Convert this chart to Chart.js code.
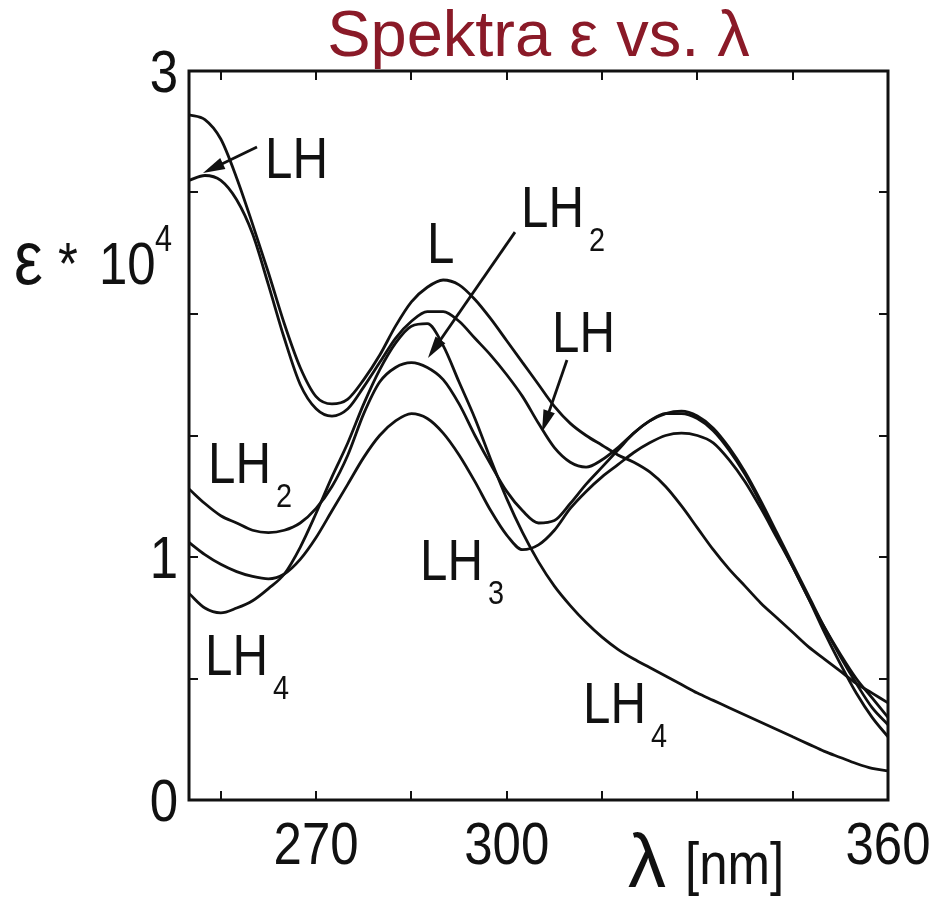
<!DOCTYPE html>
<html>
<head>
<meta charset="utf-8">
<script src="https://cdn.jsdelivr.net/npm/chart.js@4.4.1/dist/chart.umd.min.js"></script>
<style>
    html, body { margin: 0; padding: 0; background: #fff; }
    #wrap { width: 935px; height: 901px; }
</style>
</head>
<body>
<div id="wrap"><canvas id="spectra" width="935" height="901"></canvas></div>
<script>
// Wavelength grid (nm)
const wavelengths = [250, 252.5, 255, 257.5, 260, 262.5, 265, 267.5, 270, 272.5, 275, 277.5, 280, 282.5, 285,
    287.5, 290, 292.5, 295, 297.5, 300, 302.5, 305, 307.5, 310, 312.5, 315, 317.5, 320, 322.5,
    325, 327.5, 330, 332.5, 335, 337.5, 340, 342.5, 345, 347.5, 350, 352.5, 355, 357.5, 360];

// epsilon * 10^4
const epsL = [2.82, 2.80, 2.72, 2.56, 2.37, 2.17, 1.96, 1.78, 1.66, 1.63, 1.65, 1.73, 1.83, 1.95, 2.05,
    2.11, 2.14, 2.12, 2.06, 1.98, 1.89, 1.80, 1.71, 1.62, 1.55, 1.50, 1.46, 1.42, 1.39, 1.35,
    1.29, 1.21, 1.12, 1.03, 0.95, 0.88, 0.81, 0.75, 0.69, 0.63, 0.58, 0.53, 0.48, 0.44, 0.40];
const epsLH = [2.55, 2.57, 2.55, 2.47, 2.33, 2.12, 1.90, 1.71, 1.61, 1.58, 1.61, 1.70, 1.80, 1.90, 1.97,
    2.01, 2.01, 1.97, 1.90, 1.83, 1.75, 1.66, 1.55, 1.45, 1.39, 1.37, 1.40, 1.45, 1.51, 1.56,
    1.59, 1.60, 1.58, 1.53, 1.45, 1.35, 1.23, 1.10, 0.97, 0.84, 0.71, 0.59, 0.48, 0.38, 0.31];
const epsLH2 = [1.28, 1.22, 1.17, 1.14, 1.11, 1.10, 1.11, 1.14, 1.20, 1.29, 1.42, 1.59, 1.72, 1.78, 1.80,
    1.78, 1.73, 1.63, 1.50, 1.38, 1.27, 1.19, 1.14, 1.15, 1.22, 1.30, 1.37, 1.44, 1.51, 1.56,
    1.59, 1.59, 1.57, 1.52, 1.44, 1.34, 1.22, 1.09, 0.96, 0.83, 0.71, 0.60, 0.50, 0.42, 0.34];
const epsLH3 = [1.06, 1.01, 0.97, 0.94, 0.92, 0.91, 0.93, 0.99, 1.08, 1.19, 1.30, 1.41, 1.50, 1.56, 1.59,
    1.57, 1.51, 1.42, 1.31, 1.19, 1.09, 1.03, 1.05, 1.11, 1.20, 1.27, 1.33, 1.38, 1.43, 1.47,
    1.50, 1.51, 1.50, 1.47, 1.40, 1.31, 1.20, 1.08, 0.96, 0.83, 0.69, 0.56, 0.44, 0.34, 0.26];
const epsLH4 = [0.85, 0.79, 0.77, 0.79, 0.82, 0.87, 0.93, 1.04, 1.18, 1.33, 1.47, 1.63, 1.77, 1.88, 1.95,
    1.96, 1.87, 1.72, 1.57, 1.40, 1.24, 1.10, 0.98, 0.88, 0.80, 0.73, 0.67, 0.62, 0.58, 0.545,
    0.51, 0.475, 0.44, 0.41, 0.38, 0.35, 0.32, 0.29, 0.26, 0.23, 0.20, 0.175, 0.15, 0.13, 0.12];

const seriesNames = ['L', 'LH', 'LH2', 'LH3', 'LH4'];
const seriesValues = [epsL, epsLH, epsLH2, epsLH3, epsLH4];

// Axis ticks (only some of them carry a label)
const xTickValues = [255, 270, 285, 300, 315, 330, 345, 360];
const xTickLabels = { 270: '270', 300: '300', 360: '360' };
const yTickValues = [0, 0.5, 1, 1.5, 2, 2.5, 3];
const yTickLabels = { 0: '0', 1: '1', 3: '3' };

const SANS = '"Liberation Sans", Arial, sans-serif';
const SQUEEZE = 0.85;   // the original lettering is a narrow Helvetica
const INK = '#111111';

// Curve labels in data coordinates (lambda, eps); arrows go from -> to
const curveLabels = [
    { text: 'LH', sub: '', at: [261.96, 2.56], from: [260.7, 2.687], to: [252.2, 2.58] },
    { text: 'L', sub: '', at: [287.45, 2.21] },
    { text: 'LH', sub: '2', at: [302.25, 2.36], from: [301.3, 2.337], to: [287.6, 1.819] },
    { text: 'LH', sub: '', at: [307.12, 1.844], from: [309.48, 1.811], to: [305.55, 1.514] },
    { text: 'LH', sub: '2', at: [252.99, 1.305] },
    { text: 'LH', sub: '3', at: [286.35, 0.905] },
    { text: 'LH', sub: '4', at: [252.52, 0.514] },
    { text: 'LH', sub: '4', at: [312.0, 0.317] }
];

// narrow text: draw with a horizontal squeeze, returns drawn width
function narrowText(ctx, text, x, y, size, align) {
    ctx.font = size + 'px ' + SANS;
    const w = ctx.measureText(text).width * SQUEEZE;
    let left = x;
    if (align === 'right') left = x - w;
    if (align === 'center') left = x - w / 2;
    ctx.save();
    ctx.translate(left, y);
    ctx.scale(SQUEEZE, 1);
    ctx.textAlign = 'left';
    ctx.fillText(text, 0, 0);
    ctx.restore();
    return w;
}

// Box with inward tick marks on all four sides, plus the tick labels
const frameAndTicks = {
    id: 'frameAndTicks',
    afterDatasetsDraw(chart) {
        const { ctx, chartArea: a, scales: { x, y } } = chart;
        ctx.save();
        ctx.strokeStyle = INK;
        ctx.fillStyle = INK;
        ctx.lineWidth = 2;
        ctx.beginPath();
        x.ticks.forEach(t => {
            const px = Math.round(x.getPixelForValue(t.value));
            if (px <= a.left + 2 || px >= a.right - 2) return;
            ctx.moveTo(px, a.bottom); ctx.lineTo(px, a.bottom - 9);
            ctx.moveTo(px, a.top); ctx.lineTo(px, a.top + 9);
        });
        y.ticks.forEach(t => {
            const py = Math.round(y.getPixelForValue(t.value));
            if (py <= a.top + 2 || py >= a.bottom - 2) return;
            ctx.moveTo(a.left, py); ctx.lineTo(a.left + 9, py);
            ctx.moveTo(a.right, py); ctx.lineTo(a.right - 9, py);
        });
        ctx.stroke();
        ctx.lineWidth = 3;
        ctx.strokeRect(a.left, a.top, a.right - a.left, a.bottom - a.top);

        ctx.textBaseline = 'alphabetic';
        x.ticks.forEach(t => {
            const lbl = xTickLabels[t.value];
            if (lbl) narrowText(ctx, lbl, x.getPixelForValue(t.value), a.bottom + 64, 60, 'center');
        });
        y.ticks.forEach(t => {
            const lbl = yTickLabels[t.value];
            if (lbl) narrowText(ctx, lbl, a.left - 11, y.getPixelForValue(t.value) + 21, 60, 'right');
        });
        ctx.restore();
    }
};

// Curve names, arrows and the axis titles
const annotate = {
    id: 'annotate',
    afterDraw(chart) {
        const { ctx, scales: { x, y } } = chart;
        ctx.save();
        ctx.fillStyle = INK;
        ctx.strokeStyle = INK;
        ctx.textBaseline = 'alphabetic';

        curveLabels.forEach(c => {
            const px = x.getPixelForValue(c.at[0]);
            const py = y.getPixelForValue(c.at[1]);
            const w = narrowText(ctx, c.text, px, py, 58, 'left');
            if (c.sub) narrowText(ctx, c.sub, px + w + 5, py + 24, 34, 'left');
            if (c.from) {
                const x0 = x.getPixelForValue(c.from[0]), y0 = y.getPixelForValue(c.from[1]);
                const x1 = x.getPixelForValue(c.to[0]), y1 = y.getPixelForValue(c.to[1]);
                const ang = Math.atan2(y1 - y0, x1 - x0);
                const cs = Math.cos(ang), sn = Math.sin(ang);
                ctx.lineWidth = 2.8;
                ctx.beginPath();
                ctx.moveTo(x0, y0);
                ctx.lineTo(x1 - 10 * cs, y1 - 10 * sn);
                ctx.stroke();
                ctx.beginPath();
                ctx.moveTo(x1, y1);
                ctx.lineTo(x1 - 22 * cs + 6 * sn, y1 - 22 * sn - 6 * cs);
                ctx.lineTo(x1 - 22 * cs - 6 * sn, y1 - 22 * sn + 6 * cs);
                ctx.closePath();
                ctx.fill();
            }
        });

        // y axis title: eps * 10^4
        narrowText(ctx, 'ε', 14, 284, 76, 'left');
        narrowText(ctx, '*', 58, 284, 60, 'left');
        narrowText(ctx, '10', 99, 284, 60, 'left');
        narrowText(ctx, '4', 155, 251, 36, 'left');

        // x axis title: lambda [nm]
        ctx.font = '76px ' + SANS;
        ctx.fillText('λ', 628, 887);
        narrowText(ctx, '[nm]', 685, 884, 60, 'left');
        ctx.restore();
    }
};

const ctx = document.getElementById('spectra').getContext('2d');
const spectraChart = new Chart(ctx, {
    type: 'line',
    data: {
        datasets: seriesNames.map((name, i) => ({
            label: name,
            data: wavelengths.map((w, j) => ({ x: w, y: seriesValues[i][j] })),
            borderColor: INK,
            borderWidth: 2.8,
            pointRadius: 0,
            fill: false,
            cubicInterpolationMode: 'monotone'
        }))
    },
    options: {
        responsive: false,
        animation: false,
        events: [],
        layout: { padding: { left: 0, right: 47, top: 0, bottom: 0 } },
        plugins: {
            legend: { display: false },
            tooltip: { enabled: false },
            title: {
                display: true,
                fullSize: false,
                text: 'Spektra ε vs. λ',
                color: '#8a1a28',
                font: { family: SANS, size: 65, weight: 'normal', lineHeight: 1 },
                padding: { top: 6, bottom: 0 }
            }
        },
        scales: {
            x: {
                type: 'linear',
                min: 250,
                max: 360,
                grid: { display: false, drawTicks: false },
                border: { display: false },
                afterBuildTicks: s => { s.ticks = xTickValues.map(v => ({ value: v })); },
                afterFit: s => { s.height = 101; },
                ticks: { display: false, autoSkip: false }
            },
            y: {
                min: 0,
                max: 3,
                grid: { display: false, drawTicks: false },
                border: { display: false },
                afterBuildTicks: s => { s.ticks = yTickValues.map(v => ({ value: v })); },
                afterFit: s => { s.width = 189; },
                ticks: { display: false }
            }
        }
    },
    plugins: [frameAndTicks, annotate]
});
</script>
</body>
</html>
